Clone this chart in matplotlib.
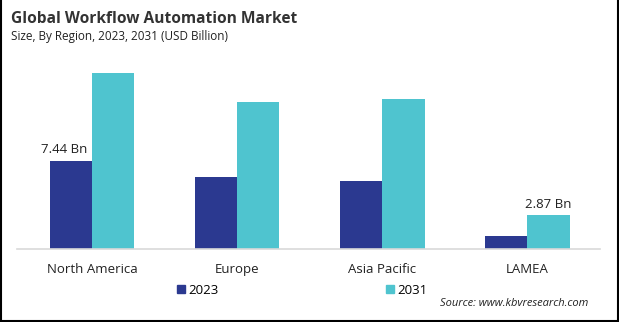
import numpy as np
import matplotlib
matplotlib.use("Agg")
from matplotlib import pyplot as plt
from matplotlib.lines import Line2D

regions = ["North America", "Europe", "Asia Pacific", "LAMEA"]
years = ["2023", "2031"]
v2023 = [7.44, 6.07, 5.71, 1.12]
v2031 = [14.8, 12.37, 12.6, 2.87]
labels2023 = ["7.44 Bn", "", "", ""]
labels2031 = ["", "", "", "2.87 Bn"]

navy = "#2B3990"
cyan = "#4FC4CF"

plt.rcParams["font.family"] = ["Open Sans", "DejaVu Sans"]

W, H = 619, 322
fig = plt.figure(figsize=(W / 100, H / 100), dpi=100)

# axes placed in pixel coords: x 17..600, y 60..249
ax = fig.add_axes([17 / W, 1 - 249 / H, (600 - 17) / W, (249 - 60) / H])
x = np.arange(len(regions))
bw = 0.29
ax.bar(x - bw / 2, v2023, bw, color=navy, label=years[0])
ax.bar(x + bw / 2, v2031, bw, color=cyan, label=years[1])
ax.set_xlim(-0.52, 3.5)
ax.set_ylim(0, 15.9)

for i in range(len(regions)):
    if labels2023[i]:
        ax.annotate(labels2023[i], (x[i] - bw / 2, v2023[i]), xytext=(-5, 3),
                    textcoords="offset points", ha="center", va="bottom",
                    fontsize=9.5, color="#222222")
    if labels2031[i]:
        ax.annotate(labels2031[i], (x[i] + bw / 2, v2031[i]), xytext=(0, 3),
                    textcoords="offset points", ha="center", va="bottom",
                    fontsize=9.5, color="#222222")

for s in ["top", "right", "left"]:
    ax.spines[s].set_visible(False)
ax.spines["bottom"].set_color("#D9D9D9")
ax.spines["bottom"].set_linewidth(1.2)
ax.set_yticks([])
ax.set_xticks(x)
ax.set_xticklabels(regions, fontsize=9.5, color="#222222")
ax.tick_params(axis="x", length=0, pad=10)

# legend
h1 = Line2D([], [], marker="s", color=navy, linestyle="none", markersize=6)
h2 = Line2D([], [], marker="s", color=cyan, linestyle="none", markersize=6)
fig.legend([h1], [years[0]], loc="center left", bbox_to_anchor=(168 / W, 1 - 290 / H),
           frameon=False, fontsize=9.5, handletextpad=0.05, borderpad=0, handlelength=1)
fig.legend([h2], [years[1]], loc="center left", bbox_to_anchor=(377 / W, 1 - 290 / H),
           frameon=False, fontsize=9.5, handletextpad=0.05, borderpad=0, handlelength=1)

fig.text(11 / W, 1 - 23 / H, "Global Workflow Automation Market", fontsize=11.2,
         fontweight="bold", color="#333333", va="baseline")
fig.text(11 / W, 1 - 40 / H, "Size, By Region, 2023, 2031 (USD Billion)", fontsize=8.5,
         color="#222222", va="baseline")
fig.text(588 / W, 1 - 303 / H, "Source: www.kbvresearch.com", fontsize=8,
         style="italic", color="#222222", ha="right", va="center")

# frame
for xs, ys in [([0.5, 0.5], [0, H]), ([W - 1.5, W - 1.5], [0, H]), ([0, W], [1.2, 1.2])]:
    fig.add_artist(Line2D([v / W for v in xs], [v / H for v in ys], color="black", lw=1.5))

fig.savefig("out.png", dpi=100)
